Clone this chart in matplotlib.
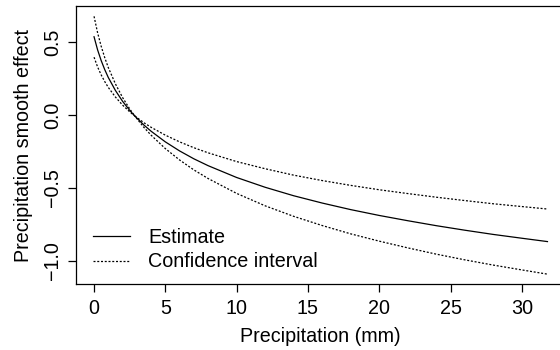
import matplotlib
matplotlib.use("Agg")
import matplotlib.pyplot as plt

# Data
precip = [0, 0.25, 0.5, 0.75, 1, 1.5, 2, 2.5, 2.85, 3.5, 4, 5, 6, 7, 8, 10, 12, 14,
          16, 18, 20, 22, 24, 26, 28, 30, 31.8]
estimate = [0.536, 0.446, 0.373, 0.311, 0.257, 0.168, 0.094, 0.032, -0.006, -0.069,
            -0.111, -0.184, -0.246, -0.300, -0.347, -0.428, -0.495, -0.553, -0.603,
            -0.648, -0.688, -0.724, -0.758, -0.789, -0.818, -0.844, -0.867]
ci_a = [0.676, 0.563, 0.471, 0.393, 0.325, 0.213, 0.120, 0.042, -0.006, -0.053,
        -0.084, -0.138, -0.184, -0.224, -0.259, -0.319, -0.368, -0.412, -0.449,
        -0.482, -0.512, -0.538, -0.563, -0.586, -0.608, -0.627, -0.644]
ci_b = [0.396, 0.329, 0.275, 0.229, 0.189, 0.123, 0.068, 0.022, -0.006, -0.085,
        -0.138, -0.230, -0.308, -0.376, -0.435, -0.537, -0.622, -0.694, -0.757,
        -0.814, -0.864, -0.910, -0.953, -0.992, -1.028, -1.061, -1.090]
xticks = [0, 5, 10, 15, 20, 25, 30]
yticks = [-1.0, -0.5, 0.0, 0.5]
ytick_labels = ["\u22121.0", "\u22120.5", "0.0", "0.5"]

plt.rcParams['font.family'] = ['Liberation Sans', 'DejaVu Sans']
FS = 14.2

W, H = 560, 350
fig = plt.figure(figsize=(W / 100, H / 100), dpi=100)
left, right, top, bottom = 75.9, 565.6, 6, 284
ax = fig.add_axes([left / W, (H - bottom) / H, (right - left) / W, (bottom - top) / H])

dot = (0, (1.6, 1.4))
ax.plot(precip, estimate, color='black', lw=0.9, label='Estimate')
ax.plot(precip, ci_a, color='black', lw=0.9, linestyle=dot, label='Confidence interval')
ax.plot(precip, ci_b, color='black', lw=0.9, linestyle=dot)

ax.set_xlim(-1.272, 33.072)
ax.set_ylim(-1.1575, 0.7466)
ax.set_xticks(xticks)
ax.set_xticklabels([str(t) for t in xticks])
ax.set_yticks(yticks)
ax.set_yticklabels(ytick_labels, rotation=90, va='center')

for s in ax.spines.values():
    s.set_linewidth(0.9)
ax.tick_params(direction='out', length=5.5, width=0.9, labelsize=FS)
ax.tick_params(axis='x', pad=5)
ax.tick_params(axis='y', pad=4.5)

ax.set_xlabel('Precipitation (mm)', fontsize=FS, labelpad=6.5)
ax.set_ylabel('Precipitation smooth effect', fontsize=FS, labelpad=7)

ax.legend(frameon=False, loc='lower left', bbox_to_anchor=(0.035, 0.045),
          borderaxespad=0, borderpad=0, handlelength=1.88, handletextpad=0.91,
          labelspacing=0.3, fontsize=FS)

fig.savefig('out.png', dpi=100)
